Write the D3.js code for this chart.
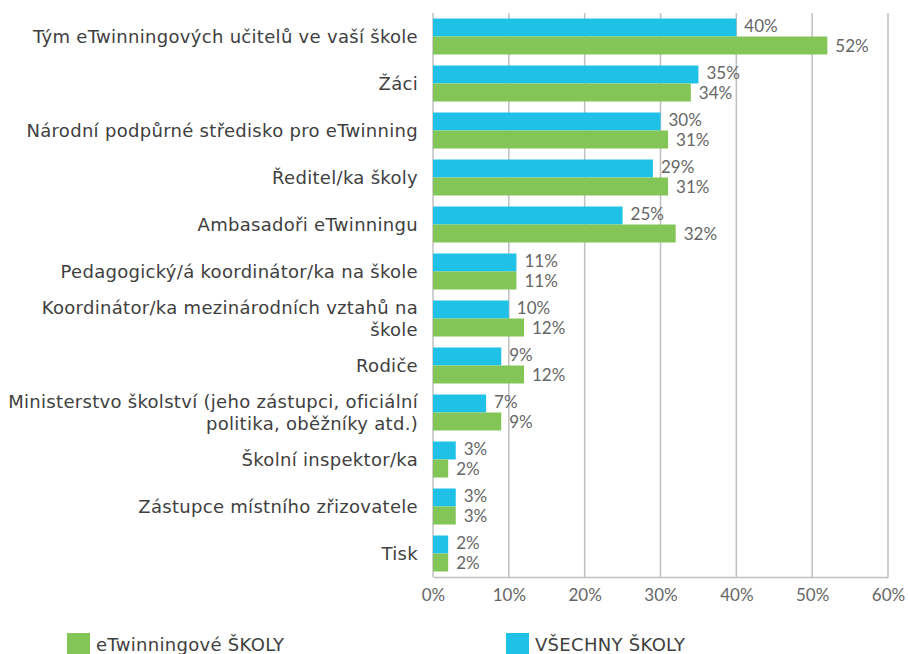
<!DOCTYPE html>
<html>
<head>
<meta charset="utf-8">
<script src="https://cdn.jsdelivr.net/npm/d3@7"></script>
<style>
  body { margin: 0; background: #fff; }
  text { font-family: "DejaVu Sans", sans-serif; }
</style>
</head>
<body>
<div id="chart"></div>
<script>
// Data
const categories = [
  ["Tým eTwinningových učitelů ve vaší škole"],
  ["Žáci"],
  ["Národní podpůrné středisko pro eTwinning"],
  ["Ředitel/ka školy"],
  ["Ambasadoři eTwinningu"],
  ["Pedagogický/á koordinátor/ka na škole"],
  ["Koordinátor/ka mezinárodních vztahů na", "škole"],
  ["Rodiče"],
  ["Ministerstvo školství (jeho zástupci, oficiální", "politika, oběžníky atd.)"],
  ["Školní inspektor/ka"],
  ["Zástupce místního zřizovatele"],
  ["Tisk"]
];
const allSchools = [40, 35, 30, 29, 25, 11, 10, 9, 7, 3, 3, 2];
const etwSchools = [52, 34, 31, 31, 32, 11, 12, 12, 9, 2, 3, 2];
const xTicks = [0, 10, 20, 30, 40, 50, 60];
const seriesNames = ["VŠECHNY ŠKOLY", "eTwinningové ŠKOLY"];
const colors = ["#1fc1e6", "#84c557"];

const width = 908, height = 654;
const margin = { top: 13, left: 433, right: 20, bottom: 77 };

const svg = d3.select("#chart").append("svg")
  .attr("width", width)
  .attr("height", height);

const x = d3.scaleLinear().domain([0, 60]).range([margin.left, 888]);
const y = d3.scaleBand().domain(d3.range(categories.length))
  .range([margin.top, 577]).paddingInner(0.234).paddingOuter(0.117);
const sub = d3.scaleBand().domain([0, 1]).range([0, y.bandwidth()]);

// Grid lines
svg.append("g").selectAll("line")
  .data(xTicks)
  .enter().append("line")
  .attr("x1", d => x(d)).attr("x2", d => x(d))
  .attr("y1", margin.top).attr("y2", 577)
  .attr("stroke", "#c0c0c0")
  .attr("stroke-width", 1.5);

// Bottom axis
const xAxis = svg.append("g")
  .attr("transform", "translate(0,577)")
  .call(d3.axisBottom(x).tickValues(xTicks).tickFormat(d => d + "%").tickSize(0).tickPadding(12));
xAxis.select(".domain").attr("stroke", "#c0c0c0").attr("stroke-width", 1.5);
xAxis.selectAll("text")
  .attr("fill", "#666")
  .style("font-size", "17px")
  .style("font-family", "Lato, sans-serif");

// Bars
const series = [allSchools, etwSchools];
series.forEach((vals, s) => {
  svg.append("g").selectAll("rect")
    .data(vals)
    .enter().append("rect")
    .attr("x", x(0))
    .attr("y", (d, i) => y(i) + sub(s))
    .attr("width", d => x(d) - x(0))
    .attr("height", sub.bandwidth())
    .attr("fill", colors[s]);

  svg.append("g").selectAll("text")
    .data(vals)
    .enter().append("text")
    .attr("x", d => x(d) + 8)
    .attr("y", (d, i) => y(i) + sub(s) + sub.bandwidth() / 2 + (s === 0 ? -1 : 1))
    .attr("dy", "0.35em")
    .attr("fill", "#666")
    .style("font-family", "Lato, sans-serif")
    .style("font-size", "17px")
    .text(d => d + "%");
});

// Category labels
const labels = svg.append("g").selectAll("text")
  .data(categories)
  .enter().append("text")
  .attr("x", 418)
  .attr("y", (d, i) => y(i) + y.bandwidth() / 2)
  .attr("text-anchor", "end")
  .attr("fill", "#404040")
  .style("font-size", "18px")
  .style("letter-spacing", "0.3px");

labels.selectAll("tspan")
  .data(d => d.map((t, k) => ({ t, k, n: d.length })))
  .enter().append("tspan")
  .attr("x", 418)
  .attr("dy", d => d.k === 0 ? (0.35 - (d.n - 1) * 0.6) + "em" : "1.2em")
  .text(d => d.t);

// Legend
const legendItems = [
  { name: seriesNames[1], color: colors[1], x: 67 },
  { name: seriesNames[0], color: colors[0], x: 506 }
];
const lg = svg.append("g").selectAll("g")
  .data(legendItems)
  .enter().append("g")
  .attr("transform", d => `translate(${d.x},633)`);
lg.append("rect").attr("width", 23).attr("height", 23).attr("fill", d => d.color);
lg.append("text")
  .attr("x", 29).attr("y", 18)
  .attr("fill", "#404040")
  .style("font-size", "18px")
  .style("letter-spacing", "0.3px")
  .text(d => d.name);
</script>
</body>
</html>
